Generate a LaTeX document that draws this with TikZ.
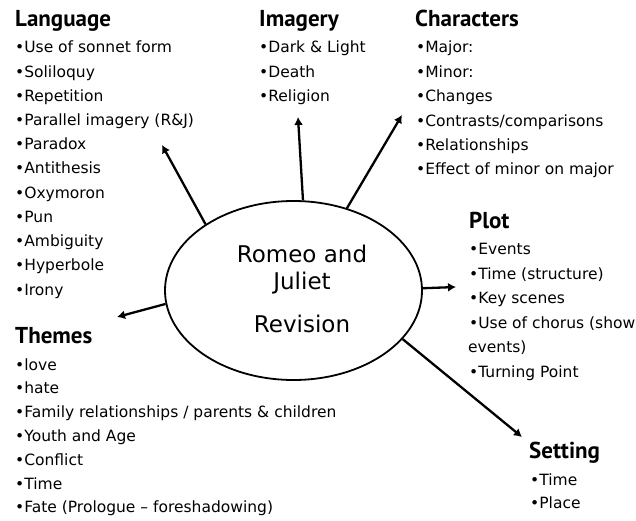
\documentclass[tikz,border=0pt]{standalone}
\usepackage{fontspec}
\setmainfont{DejaVu Sans}
\newfontfamily\headfont{PT Sans}
\usetikzlibrary{shapes.geometric,arrows.meta}

\begin{document}
\begin{tikzpicture}[x=1pt, y=-1pt,
        heading/.style={anchor=base west, inner sep=0, font=\headfont\bfseries\fontsize{23}{26}\selectfont},
        point/.style={anchor=base west, inner sep=0, font=\fontsize{15.5}{18}\selectfont},
        title/.style={anchor=base, inner sep=0, font=\fontsize{23}{28}\selectfont},
        link/.style={line width=2.3pt, -{Latex[length=8pt,width=9pt]}}]
            \useasboundingbox[fill=white] (0,0) rectangle (636,521);
            % centre
            \node [ellipse, draw=black, line width=1.8pt, minimum width=257pt, minimum height=179pt, inner sep=0] (rj) at (293.5,290.5) {};
            \node [title] (rj1) at (302,262) {Romeo and};
            \node [title] (rj2) at (302,289) {Juliet};
            \node [title] (rj3) at (302,332) {Revision};
            % Language
            \node [heading] (lang) at (15,27) {Language};
            \node [point] (lang1) at (15,53) {\textbullet Use of sonnet form};
            \node [point] (lang2) at (15,77.2) {\textbullet Soliloquy};
            \node [point] (lang3) at (15,101.4) {\textbullet Repetition};
            \node [point] (lang4) at (15,125.6) {\textbullet Parallel imagery (R\&J)};
            \node [point] (lang5) at (15,149.8) {\textbullet Paradox};
            \node [point] (lang6) at (15,174) {\textbullet Antithesis};
            \node [point] (lang7) at (15,198.2) {\textbullet Oxymoron};
            \node [point] (lang8) at (15,222.4) {\textbullet Pun};
            \node [point] (lang9) at (15,246.6) {\textbullet Ambiguity};
            \node [point] (lang10) at (15,270.8) {\textbullet Hyperbole};
            \node [point] (lang11) at (15,295) {\textbullet Irony};
            % Imagery
            \node [heading] (img) at (259,27) {Imagery};
            \node [point] (img1) at (259,53) {\textbullet Dark \& Light};
            \node [point] (img2) at (259,77.4) {\textbullet Death};
            \node [point] (img3) at (259,101.8) {\textbullet Religion};
            % Characters
            \node [heading] (chars) at (415,27) {Characters};
            \node [point] (chars1) at (416,53) {\textbullet Major:};
            \node [point] (chars2) at (416,77.4) {\textbullet Minor:};
            \node [point] (chars3) at (416,101.8) {\textbullet Changes};
            \node [point] (chars4) at (416,126.2) {\textbullet Contrasts/comparisons};
            \node [point] (chars5) at (416,150.6) {\textbullet Relationships};
            \node [point] (chars6) at (416,175) {\textbullet Effect of minor on major};
            % Plot
            \node [heading] (plot) at (469,228) {Plot};
            \node [point] (plot1) at (469,254.5) {\textbullet Events};
            \node [point] (plot2) at (469,279.1) {\textbullet Time (structure)};
            \node [point] (plot3) at (469,303.7) {\textbullet Key scenes};
            \node [point] (plot4) at (469,328.3) {\textbullet Use of chorus (show};
            \node [point] (plot4b) at (468,352.9) {events)};
            \node [point] (plot5) at (469,377.5) {\textbullet Turning Point};
            % Setting
            \node [heading] (set) at (529,458) {Setting};
            \node [point] (set1) at (530,485) {\textbullet Time};
            \node [point] (set2) at (530,508.5) {\textbullet Place};
            % Themes
            \node [heading] (themes) at (15,343) {Themes};
            \node [point] (themes1) at (15,370) {\textbullet love};
            \node [point] (themes2) at (15,393.8) {\textbullet hate};
            \node [point] (themes3) at (15,417.6) {\textbullet Family relationships / parents \& children};
            \node [point] (themes4) at (15,441.4) {\textbullet Youth and Age};
            \node [point] (themes5) at (15,465.2) {\textbullet Conflict};
            \node [point] (themes6) at (15,489) {\textbullet Time};
            \node [point] (themes7) at (15,512.8) {\textbullet Fate (Prologue -- foreshadowing)};
            % arrow ends
            \coordinate (langtip) at (162,145);
            \coordinate (imgtip) at (298,117);
            \coordinate (charstip) at (402,115);
            \coordinate (plottip) at (456,287);
            \coordinate (settip) at (522,437);
            \coordinate (themestip) at (117,317);
            \draw[link] (rj.143.3) -- (langtip);
            \draw[link] (rj.84.6) -- (imgtip);
            \draw[link] (rj.57.4) -- (charstip);
            \draw[link] (rj.1.5) -- (plottip);
            \draw[link] (rj.-24.7) -- (settip);
            \draw[link] (rj.186.5) -- (themestip);
        \end{tikzpicture}
\end{document}
